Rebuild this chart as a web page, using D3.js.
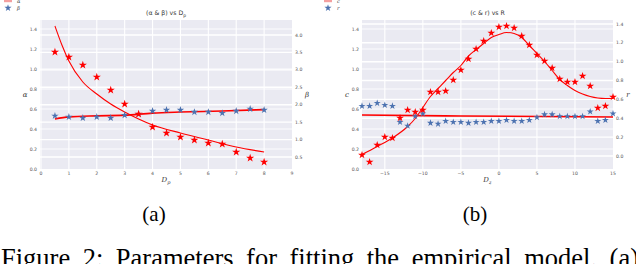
<!DOCTYPE html>
<html><head><meta charset="utf-8">
<script src="https://cdn.jsdelivr.net/npm/d3@7"></script>
<style>body{margin:0;background:#fff}svg{display:block}</style>
</head><body>
<svg id="c" width="636" height="264"></svg>
<script>
// ---------- panel (a) data ----------
const aX = [0.5,1,1.5,2,2.5,3,3.5,4,4.5,5,5.5,6,6.5,7,7.5,8];
const aAlpha = [1.17,1.12,1.04,0.92,0.79,0.65,0.55,0.42,0.36,0.32,0.29,0.26,0.25,0.17,0.11,0.07];
const aBeta = [1.68,1.65,1.62,1.65,1.62,1.70,1.73,1.82,1.85,1.85,1.79,1.79,1.76,1.82,1.88,1.85];
const aAlphaFitX = [0.5,0.75,1,1.5,2,2.5,3,3.5,4,5,6,7,8];
const aAlphaFit = [1.43,1.24,1.08,0.87,0.75,0.65,0.57,0.50,0.44,0.36,0.29,0.22,0.17];
const aBetaFitX = [0.5,1,2,3,4,5,6.5,8];
const aBetaFit = [1.59,1.65,1.68,1.70,1.76,1.79,1.82,1.86];
const aXTicks = [0,1,2,3,4,5,6,7,8,9];
const aLeftTicks = [0,0.2,0.4,0.6,0.8,1.0,1.2,1.4];
const aRightTicks = [0.5,1.0,1.5,2.0,2.5,3.0,3.5,4.0];

// ---------- panel (b) data ----------
const bX = [-18,-17,-16,-15,-14,-13,-12,-11,-10,-9,-8,-7,-6,-5,-4,-3,-2,-1,0,1,2,3,4,5,6,7,8,9,10,11,12,13,14,15];
const bC = [0.14,0.07,0.24,0.32,0.31,0.51,0.59,0.57,0.59,0.77,0.77,0.78,0.89,0.99,1.10,1.20,1.28,1.36,1.42,1.43,1.41,1.33,1.24,1.14,1.08,1.01,0.90,0.87,0.87,0.93,0.83,0.61,0.63,0.72];
const bR = [0.53,0.53,0.56,0.54,0.53,0.36,0.32,0.42,0.45,0.35,0.34,0.37,0.36,0.36,0.35,0.36,0.36,0.37,0.37,0.38,0.37,0.37,0.38,0.41,0.44,0.44,0.42,0.42,0.42,0.42,0.47,0.37,0.38,0.45];
const bCFitX = [-18,-16,-14,-12,-11,-10,-9,-8,-7,-6,-5,-4,-3,-2,-1,0,1,2,3,4,5,6,7,8,9,10,11,12,13,14,15];
const bCFit = [0.145,0.225,0.31,0.425,0.505,0.615,0.725,0.805,0.885,0.965,1.035,1.13,1.195,1.255,1.315,1.345,1.365,1.355,1.315,1.235,1.155,1.075,0.985,0.895,0.835,0.785,0.75,0.725,0.71,0.705,0.705];
const bRFitX = [-18,-5,15];
const bRFit = [0.435,0.424,0.414];
const bXTicks = [-15,-10,-5,0,5,10,15];
const bLeftTicks = [0,0.2,0.4,0.6,0.8,1.0,1.2,1.4];
const bRightTicks = [0,0.2,0.4,0.6,0.8,1.0,1.2,1.4];

const svg = d3.select("#c");
const RED = "#ff0000", BLUE = "#4c72b0", BG = "#eaeaf2";
const fmtMinus = v => d3.format(".0f")(v).replace("-", "\u2212");

function panel(o) {
  const g = svg.append("g");
  const x = d3.scaleLinear().domain(o.xDom).range(o.xRange);
  const yl = d3.scaleLinear().domain(o.ylDom).range([169, 20]);
  const yr = d3.scaleLinear().domain(o.yrDom).range([169, 20]);
  const L = o.left, R = o.right;
  g.append("rect").attr("x", L).attr("y", 20).attr("width", R - L).attr("height", 149).attr("fill", BG);
  const grid = g.append("g").attr("stroke", "#fff");
  o.xTicks.forEach(t => { const px = x(t); if (px > L + 0.5 && px < R - 0.5)
    grid.append("line").attr("x1", px).attr("x2", px).attr("y1", 20).attr("y2", 169).attr("stroke-width", 1.1); });
  o.lTicks.forEach(t => { const py = yl(t); if (py > 20.5 && py < 168.5)
    grid.append("line").attr("x1", L).attr("x2", R).attr("y1", py).attr("y2", py).attr("stroke-width", 0.9); });
  o.rTicks.forEach(t => { const py = yr(t); if (py > 20.5 && py < 168.5)
    grid.append("line").attr("x1", L).attr("x2", R).attr("y1", py).attr("y2", py).attr("stroke-width", 1.4); });

  const tk = g.append("g").attr("font-family", "DejaVu Sans, sans-serif").attr("font-size", 4.6).attr("fill", "#555");
  o.xTicks.forEach(t => tk.append("text").attr("x", x(t)).attr("y", 175).attr("text-anchor", "middle").text(o.xFmt(t)));
  o.lTicks.forEach(t => tk.append("text").attr("x", L - 3).attr("y", yl(t) + 1.6).attr("text-anchor", "end").text(d3.format(".1f")(t)));
  o.rTicks.forEach(t => tk.append("text").attr("x", R + 3).attr("y", yr(t) + 1.6).attr("text-anchor", "start").text(d3.format(".1f")(t)));

  const lab = g.append("g").attr("font-family", "DejaVu Serif, serif").attr("fill", "#333").attr("font-style", "italic");
  lab.append("text").attr("x", o.lLabX).attr("y", 97).attr("font-size", 7).attr("text-anchor", "middle").text(o.lLab);
  lab.append("text").attr("x", o.rLabX).attr("y", 97).attr("font-size", 7).attr("text-anchor", "middle").text(o.rLab);
  const xl = lab.append("text").attr("x", (L + R) / 2).attr("y", 182).attr("font-size", 7).attr("text-anchor", "middle");
  xl.append("tspan").text("D");
  xl.append("tspan").attr("font-size", 5).attr("dy", 1.5).text(o.xSub);
  const tt = g.append("text").attr("x", (L + R) / 2).attr("y", 15).attr("font-family", "DejaVu Sans, sans-serif")
    .attr("font-size", 6.2).attr("fill", "#333").attr("text-anchor", "middle");
  tt.text(o.title);
  if (o.titleSub) tt.append("tspan").attr("font-size", 4.5).attr("dy", 1.5).text(o.titleSub);

  // fit lines
  const line = (xs, ys, ysc) => d3.line().curve(d3.curveMonotoneX).x((d, i) => x(xs[i])).y((d, i) => ysc(ys[i]))(ys);
  g.append("path").attr("d", line(o.fit1X, o.fit1, yl)).attr("fill", "none").attr("stroke", RED).attr("stroke-width", 1.1);
  g.append("path").attr("d", line(o.fit2X, o.fit2, yr)).attr("fill", "none").attr("stroke", RED).attr("stroke-width", 1.6);

  const star = d3.symbol().type(d3.symbolStar);
  g.append("g").selectAll("path").data(o.xs).join("path")
    .attr("transform", (d, i) => `translate(${x(d)},${yr(o.s2[i])})`)
    .attr("d", star.size(o.starSize)()).attr("fill", BLUE);
  g.append("g").selectAll("path").data(o.xs).join("path")
    .attr("transform", (d, i) => `translate(${x(d)},${yl(o.s1[i])})`)
    .attr("d", star.size(o.starSize + 4)()).attr("fill", RED);

  // legend
  const lg = g.append("g").attr("font-family", "DejaVu Serif, serif").attr("font-style", "italic").attr("font-size", 5).attr("fill", "#333");
  lg.append("rect").attr("x", o.legX).attr("y", 0).attr("width", 8).attr("height", 2.2).attr("fill", "#f4a0a0");
  lg.append("text").attr("x", o.legX + 13).attr("y", 3).text(o.lLab);
  lg.append("path").attr("transform", `translate(${o.legX + 4},${8})`).attr("d", star.size(16)()).attr("fill", BLUE);
  lg.append("text").attr("x", o.legX + 13).attr("y", 10).text(o.rLab);
}

panel({
  left: 40, right: 292, xDom: [0, 9], xRange: [41, 292],
  ylDom: [0, 1.49], yrDom: [0.156, 4.43],
  xTicks: aXTicks, lTicks: aLeftTicks, rTicks: aRightTicks, xFmt: d3.format(".0f"),
  lLab: "\u03b1", rLab: "\u03b2", lLabX: 25, rLabX: 307, xSub: "p",
  title: "(\u03b1 & \u03b2) vs D", titleSub: "p",
  fit1X: aAlphaFitX, fit1: aAlphaFit, fit2X: aBetaFitX, fit2: aBetaFit,
  xs: aX, s1: aAlpha, s2: aBeta, starSize: 17, legX: 4
});
panel({
  left: 362, right: 613, xDom: [-18, 15], xRange: [362, 613],
  ylDom: [0, 1.49], yrDom: [-0.138, 1.442],
  xTicks: bXTicks, lTicks: bLeftTicks, rTicks: bRightTicks, xFmt: fmtMinus,
  lLab: "c", rLab: "r", lLabX: 347, rLabX: 628, xSub: "z",
  title: "(c & r) vs R", titleSub: null,
  fit1X: bCFitX, fit1: bCFit, fit2X: bRFitX, fit2: bRFit,
  xs: bX, s1: bC, s2: bR, starSize: 15, legX: 324
});

// captions
const cap = svg.append("g").attr("font-family", "Liberation Serif, Times New Roman, serif").attr("fill", "#000");
cap.append("text").attr("x", 154).attr("y", 221).attr("font-size", 21).attr("text-anchor", "middle").text("(a)");
cap.append("text").attr("x", 475).attr("y", 221).attr("font-size", 21).attr("text-anchor", "middle").text("(b)");
const capText = "Figure 2: Parameters for fitting the empirical model. (a)";
const fig = cap.append("text").attr("x", 1).attr("y", 267).attr("font-size", 26.5).text(capText);
const len = fig.node().getComputedTextLength();
const spaces = capText.split(" ").length - 1;
fig.attr("word-spacing", Math.max(0, (638 - len) / spaces));
</script>
</body></html>
